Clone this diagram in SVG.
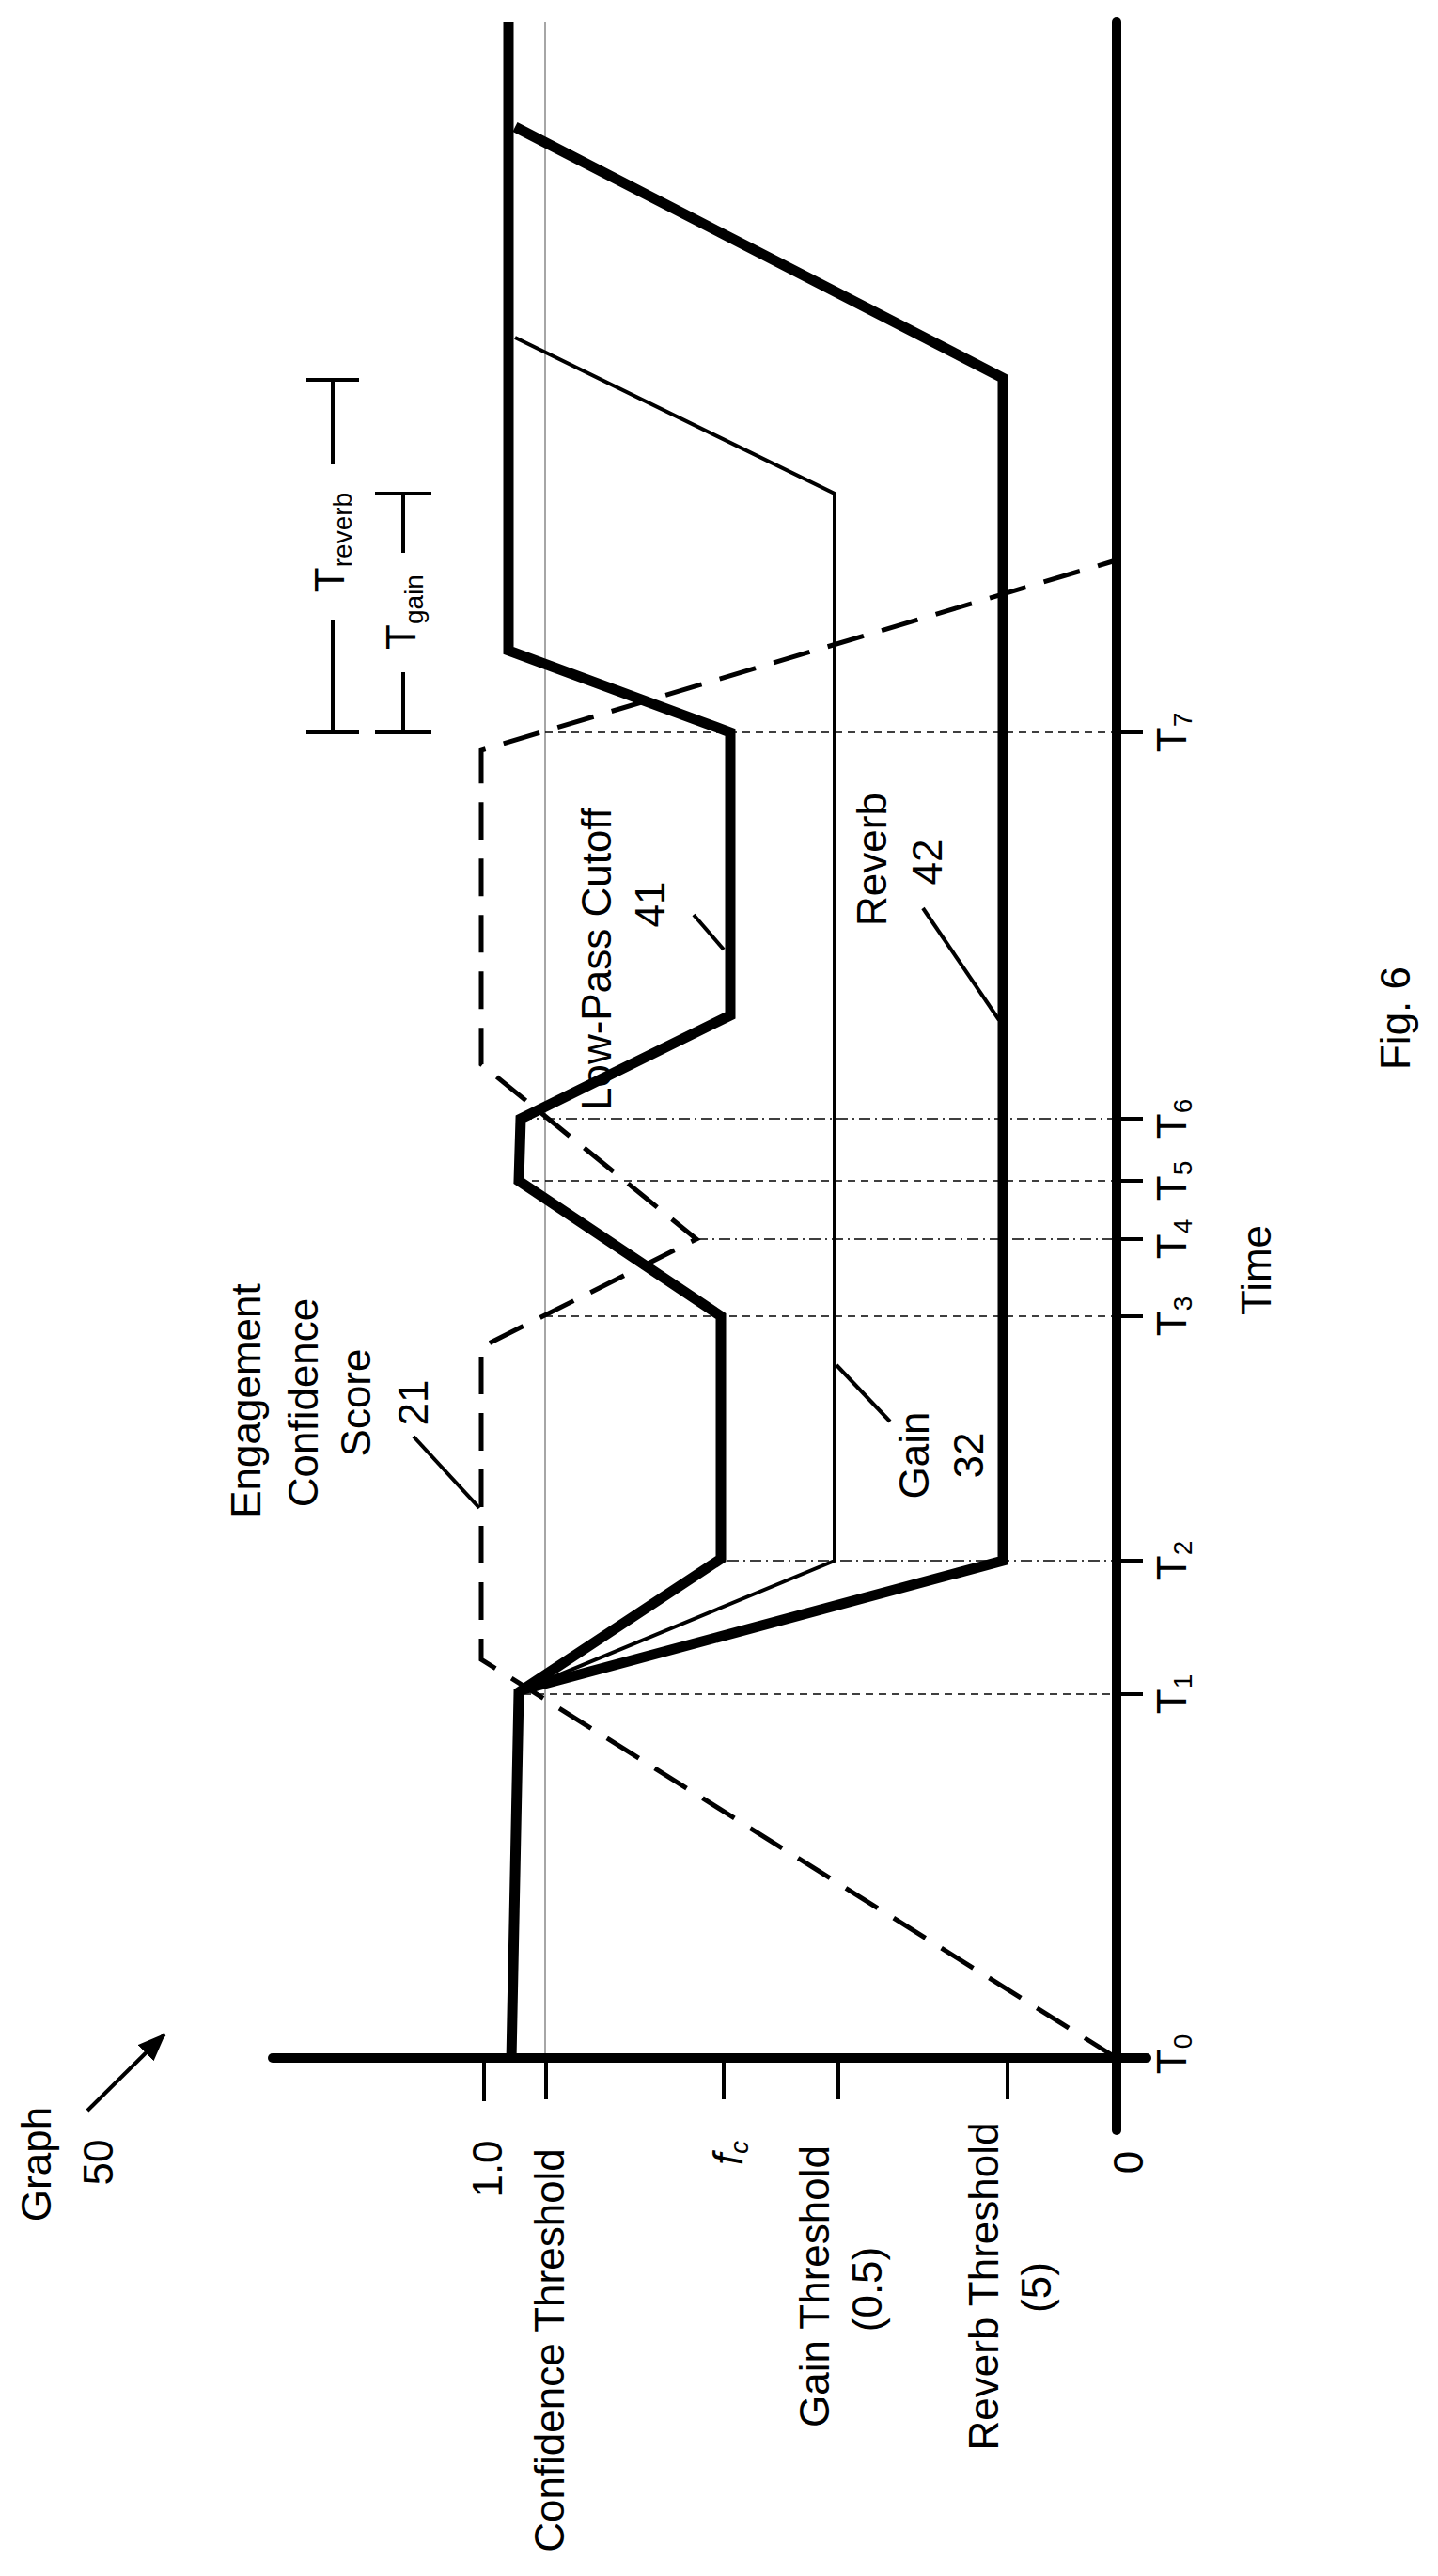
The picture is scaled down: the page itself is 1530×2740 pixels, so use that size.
<svg xmlns="http://www.w3.org/2000/svg" width="1530" height="2740" viewBox="0 0 1530 2740">
<style>
text{font-family:"Liberation Sans",Arial,sans-serif;font-size:44px;fill:#000}
.thick{fill:none;stroke:#000;stroke-width:11;stroke-linejoin:miter}
.axis{fill:none;stroke:#000;stroke-width:10;stroke-linecap:round}
.thin{fill:none;stroke:#000;stroke-width:4}
.dash{fill:none;stroke:#000;stroke-width:5;stroke-dasharray:40 20}
.grid1{fill:none;stroke:#000;stroke-width:1.5;stroke-dasharray:8 6}
.grid2{fill:none;stroke:#000;stroke-width:1.5;stroke-dasharray:12 5 2 5}
.tick{stroke:#000;stroke-width:4}
.lead{stroke:#000;stroke-width:4}
</style>
<defs><marker id="ah" markerWidth="10" markerHeight="10" refX="8" refY="5" orient="auto" markerUnits="userSpaceOnUse"><path d="M0,0 L10,5 L0,10 Z" fill="#000"/></marker>
<marker id="ah2" markerWidth="30" markerHeight="24" refX="28" refY="12" orient="auto" markerUnits="userSpaceOnUse"><path d="M0,0 L30,12 L0,24 Z" fill="#000"/></marker></defs>
<g id="connectors">
<line x1="580" y1="23" x2="580" y2="2189" stroke="#888" stroke-width="1.5"/>
<line class="grid1" x1="557" y1="1802" x2="1188" y2="1802"/>
<line class="grid2" x1="774" y1="1660" x2="1188" y2="1660"/>
<line class="grid1" x1="580" y1="1400" x2="1188" y2="1400"/>
<line class="grid2" x1="741" y1="1318" x2="1188" y2="1318"/>
<line class="grid1" x1="552" y1="1256" x2="1188" y2="1256"/>
<line class="grid2" x1="554" y1="1190" x2="1188" y2="1190"/>
<line class="grid1" x1="580" y1="779" x2="1188" y2="779"/>
<line class="axis" x1="1188" y1="23" x2="1188" y2="2266"/>
<line class="axis" x1="290" y1="2189" x2="1220" y2="2189"/>
<g class="tick"><line x1="515" y1="2189" x2="515" y2="2235"/><line x1="581" y1="2189" x2="581" y2="2233"/><line x1="770" y1="2189" x2="770" y2="2233"/><line x1="892" y1="2189" x2="892" y2="2233"/><line x1="1072" y1="2189" x2="1072" y2="2233"/>
<line x1="1188" y1="1802" x2="1216" y2="1802"/><line x1="1188" y1="1660" x2="1216" y2="1660"/><line x1="1188" y1="1400" x2="1216" y2="1400"/><line x1="1188" y1="1318" x2="1216" y2="1318"/><line x1="1188" y1="1256" x2="1216" y2="1256"/><line x1="1188" y1="1190" x2="1216" y2="1190"/><line x1="1188" y1="779" x2="1216" y2="779"/></g>
</g>
<g id="engagement"><polyline class="dash" points="1188,2189 512,1765 512,1433 741,1318 512,1132 512,798 1184,597"/>
<line class="lead" x1="440" y1="1528" x2="510" y2="1604"/>
<text transform="translate(277,1490) rotate(-90)" text-anchor="middle">Engagement</text>
<text transform="translate(338,1492) rotate(-90)" text-anchor="middle">Confidence</text>
<text transform="translate(394,1492) rotate(-90)" text-anchor="middle">Score</text>
<text transform="translate(455,1492) rotate(-90)" text-anchor="middle">21</text></g>
<g id="lowpass"><polyline class="thick" points="541,23 541,692 777,779 777,1080 554,1190 552,1256 767,1400 767,1658 552,1800 544,2192"/>
<line class="lead" x1="738" y1="973" x2="770" y2="1010"/>
<text transform="translate(650,1020) rotate(-90)" text-anchor="middle">Low-Pass Cutoff</text>
<text transform="translate(707,962) rotate(-90)" text-anchor="middle">41</text></g>
<g id="gain"><polyline class="thin" points="548,359 888,525 888,1660 557,1797"/>
<line class="lead" x1="890" y1="1452" x2="947" y2="1512"/>
<text transform="translate(988,1548) rotate(-90)" text-anchor="middle">Gain</text>
<text transform="translate(1046,1548) rotate(-90)" text-anchor="middle">32</text></g>
<g id="reverb"><polyline class="thick" stroke-width="10" points="548,135 1067,402 1067,1660 557,1797"/>
<line class="lead" x1="982" y1="966" x2="1063" y2="1085"/>
<text transform="translate(943,914) rotate(-90)" text-anchor="middle">Reverb</text>
<text transform="translate(1002,917) rotate(-90)" text-anchor="middle">42</text></g>
<g id="brackets" stroke="#000" stroke-width="4">
<line x1="354" y1="404" x2="354" y2="494"/><line x1="354" y1="660" x2="354" y2="779"/><line x1="326" y1="404" x2="382" y2="404"/><line x1="326" y1="779" x2="382" y2="779"/>
<line x1="429" y1="525" x2="429" y2="588"/><line x1="429" y1="715" x2="429" y2="779"/><line x1="399" y1="525" x2="459" y2="525"/><line x1="399" y1="779" x2="459" y2="779"/>
</g>
<g id="bracket-labels">
<text transform="translate(366,577) rotate(-90)" text-anchor="middle" font-size="42">T<tspan font-size="28" dy="8">reverb</tspan></text>
<text transform="translate(442,651) rotate(-90)" text-anchor="middle" font-size="42">T<tspan font-size="28" dy="8">gain</tspan></text>
</g>
<g id="ylabels">
<text transform="translate(534,2307) rotate(-90)" text-anchor="middle">1.0</text>
<text transform="translate(600,2500) rotate(-90)" text-anchor="middle">Confidence Threshold</text>
<text transform="translate(790,2290) rotate(-90)" text-anchor="middle" font-style="italic">f<tspan font-size="28" dy="6">c</tspan></text>
<text transform="translate(882,2432) rotate(-90)" text-anchor="middle">Gain Threshold</text>
<text transform="translate(938,2435) rotate(-90)" text-anchor="middle">(0.5)</text>
<text transform="translate(1062,2432) rotate(-90)" text-anchor="middle">Reverb Threshold</text>
<text transform="translate(1118,2433) rotate(-90)" text-anchor="middle">(5)</text>
<text transform="translate(1216,2300) rotate(-90)" text-anchor="middle">0</text>
</g>
<g id="tlabels">
<text transform="translate(1262,2185) rotate(-90)" text-anchor="middle">T<tspan font-size="28" dy="6">0</tspan></text>
<text transform="translate(1262,1802) rotate(-90)" text-anchor="middle">T<tspan font-size="28" dy="6">1</tspan></text>
<text transform="translate(1262,1660) rotate(-90)" text-anchor="middle">T<tspan font-size="28" dy="6">2</tspan></text>
<text transform="translate(1262,1400) rotate(-90)" text-anchor="middle">T<tspan font-size="28" dy="6">3</tspan></text>
<text transform="translate(1262,1318) rotate(-90)" text-anchor="middle">T<tspan font-size="28" dy="6">4</tspan></text>
<text transform="translate(1262,1256) rotate(-90)" text-anchor="middle">T<tspan font-size="28" dy="6">5</tspan></text>
<text transform="translate(1262,1190) rotate(-90)" text-anchor="middle">T<tspan font-size="28" dy="6">6</tspan></text>
<text transform="translate(1262,779) rotate(-90)" text-anchor="middle">T<tspan font-size="28" dy="6">7</tspan></text>
<text transform="translate(1352,1351) rotate(-90)" text-anchor="middle">Time</text>
<text transform="translate(1500,1083) rotate(-90)" text-anchor="middle" font-size="60">Fig. 6</text>
</g>
<g id="graph-label">
<text transform="translate(54,2302) rotate(-90)" text-anchor="middle">Graph</text>
<text transform="translate(120,2300) rotate(-90)" text-anchor="middle">50</text>
<line x1="93" y1="2245" x2="175" y2="2164" stroke="#000" stroke-width="4" marker-end="url(#ah2)"/>
</g>
</svg>
